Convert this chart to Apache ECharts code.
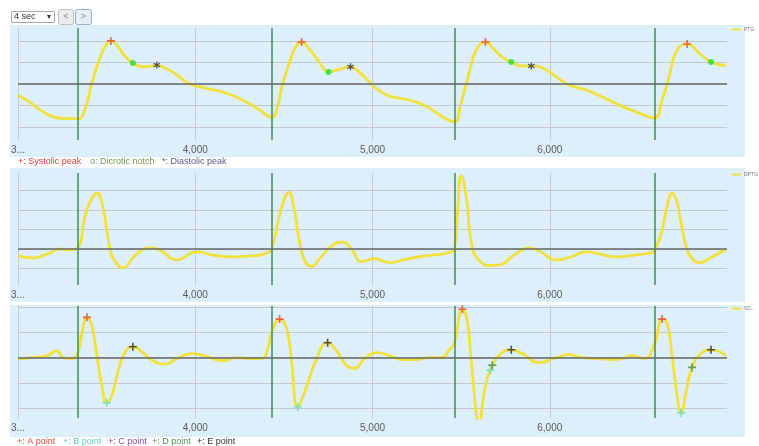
<!DOCTYPE html>
<html><head><meta charset="utf-8">
<script src="https://cdn.jsdelivr.net/npm/echarts@6/dist/echarts.min.js"></script>
<style>html,body{margin:0;padding:0;background:#fff}#c{width:759px;height:446px}</style>
</head><body><div id="c"></div>
<script>
// ---- data (time in ms, normalised amplitude) ----
const tickValues = [3000, 4000, 5000, 6000];
const tickLabels = ['3...', '4,000', '5,000', '6,000'];
const beatTimes = [3338, 4431, 5462, 6594];

const ptgTime = [3000,3068,3124,3208,3265,3338,3377,3417,3462,3496,3524,3563,3603,3648,3704,3744,3783,3828,3873,3924,3969,4065,4177,4279,4363,4431,4459,4493,4532,4566,4600,4645,4684,4718,4752,4814,4876,4910,4944,5000,5079,5152,5248,5321,5394,5462,5496,5530,5558,5586,5637,5687,5732,5783,5845,5896,5958,6037,6110,6206,6296,6392,6504,6589,6634,6673,6718,6775,6842,6910,6994];
const ptgValue = [-0.51,-0.85,-1.2,-1.55,-1.6,-1.62,-1.2,0.05,1.2,1.8,2.0,1.75,1.3,0.98,0.8,0.82,0.88,0.75,0.56,0.25,0.0,-0.2,-0.43,-0.8,-1.2,-1.55,-1.2,0.0,1.0,1.7,1.95,1.6,1.2,0.8,0.56,0.68,0.8,0.65,0.42,-0.05,-0.51,-0.65,-0.84,-1.12,-1.52,-1.76,-1.0,0.05,0.9,1.58,1.95,1.6,1.25,1.02,0.84,0.84,0.74,0.33,-0.05,-0.28,-0.6,-0.98,-1.35,-1.58,-0.74,0.33,1.58,1.86,1.44,1.02,0.84];

const dptgTime = [3000,3085,3180,3237,3293,3338,3377,3411,3445,3479,3518,3552,3592,3648,3699,3744,3800,3896,4008,4099,4211,4307,4363,4409,4431,4470,4504,4527,4555,4589,4623,4656,4701,4769,4831,4882,4938,5011,5096,5180,5265,5349,5423,5462,5480,5501,5530,5560,5603,5659,5716,5800,5885,5941,6037,6121,6206,6279,6375,6448,6521,6572,6594,6634,6662,6690,6718,6741,6775,6809,6842,6916,6994];
const dptgValue = [-0.36,-0.46,-0.2,0.0,-0.05,0.05,1.63,2.5,2.86,2.14,0.05,-0.7,-0.97,-0.46,-0.05,0.05,-0.05,-0.56,-0.15,-0.31,-0.41,-0.35,-0.31,-0.2,0.0,1.5,2.6,2.9,2.2,0.3,-0.7,-0.9,-0.5,0.15,0.35,0.0,-0.65,-0.5,-0.7,-0.55,-0.4,-0.3,-0.2,0.0,1.9,3.75,2.6,0.2,-0.6,-0.85,-0.82,-0.3,0.05,-0.1,-0.56,-0.4,-0.15,-0.25,-0.41,-0.35,-0.26,-0.2,-0.05,0.97,2.2,2.86,2.4,1.33,-0.05,-0.55,-0.71,-0.41,0.0];

const sdptgTime = [3000,3085,3163,3220,3254,3304,3338,3361,3389,3417,3445,3473,3501,3530,3563,3603,3648,3704,3761,3828,3896,3980,4025,4099,4155,4234,4307,4375,4409,4431,4476,4516,4544,4578,4617,4685,4747,4797,4854,4899,4955,5028,5096,5169,5248,5321,5389,5434,5462,5507,5535,5558,5603,5631,5671,5732,5783,5845,5941,6037,6110,6183,6279,6352,6431,6465,6533,6594,6606,6634,6662,6690,6718,6741,6769,6803,6854,6910,6994];
const sdptgValue = [-0.04,0,0.08,0.27,0.0,-0.04,0.2,0.98,1.6,1.25,0.08,-1.1,-1.8,-1.49,-0.59,0.2,0.43,0.2,-0.12,-0.27,-0.04,0.16,0.12,-0.04,-0.12,0,-0.04,-0.04,0.35,1.0,1.53,1.14,-0.2,-1.96,-1.37,-0.04,0.59,0.27,-0.31,-0.43,-0.04,0.2,0.08,-0.08,-0.08,0,0,0.31,0.59,1.92,1.45,-0.2,-2.6,-1.37,-0.39,0.2,0.31,0.16,-0.2,0,0.12,0,-0.04,-0.08,0,0.08,-0.04,0.59,0.94,1.53,1.37,0.08,-1.49,-2.2,-1.37,-0.39,0.16,0.31,0.08];

const sysTime = [3524, 4600, 5637, 6775];
const sysValue = [2.0, 1.95, 1.95, 1.86];
const notchTime = [3648, 4752, 5783, 6910];
const notchValue = [0.98, 0.56, 1.02, 1.02];
const diaTime = [3783, 4876, 5896];
const diaValue = [0.88, 0.8, 0.84];

const aTime = [3389, 4476, 5507, 6634];
const aValue = [1.6, 1.53, 1.92, 1.53];
const bTime = [3501, 4578, 5665, 6741];
const bValue = [-1.8, -1.96, -0.5, -2.2];
const dTime = [5676, 6803];
const dValue = [-0.3, -0.39];
const eTime = [3648, 4747, 5783, 6910];
const eValue = [0.43, 0.59, 0.31, 0.31];

// ---- chart ----
const zip = (t, v) => t.map((x, i) => [x, v[i]]);
const PLUS = 'path://M4,0H6V4H10V6H6V10H4V6H0V4H4Z';
const STAR = 'path://M4.2,0H5.8V3.2L8.5,1.5L9.3,2.9L6.6,4.5L9.3,6.1L8.5,7.5L5.8,5.8V9H4.2V5.8L1.5,7.5L0.7,6.1L3.4,4.5L0.7,2.9L1.5,1.5L4.2,3.2Z';
const FONT = 'Liberation Sans';
const LINE_COLOR = '#f1e13a';

const grids = [
  {left: 18, width: 709, top: 28, height: 112},
  {left: 18, width: 709, top: 173, height: 112},
  {left: 18, width: 709, top: 306, height: 112}
];
const yRanges = [[-2.6, 2.6], [-1.85, 3.9], [-2.4, 2.05]];

const xAxes = grids.map((g, i) => ({
  type: 'value', gridIndex: i, min: 3000, max: 7000, interval: 1000,
  axisLine: {show: false}, axisTick: {show: false},
  axisLabel: {
    fontSize: 10, color: '#5a5a5a', margin: 5, fontFamily: FONT, showMaxLabel: false,
    formatter: v => { const k = tickValues.indexOf(v); return k >= 0 ? tickLabels[k] : ''; }
  },
  splitLine: {show: true, showMaxLine: false, lineStyle: {color: '#c6cacd', width: 1}}
}));
const yAxes = grids.map((g, i) => ({
  type: 'value', gridIndex: i, min: yRanges[i][0], max: yRanges[i][1],
  axisLine: {show: false}, axisTick: {show: false}, axisLabel: {show: false},
  splitLine: {show: true, showMinLine: false, showMaxLine: false, lineStyle: {color: '#c4c8cc', width: 1}}
}));

function guides(i) {
  return {
    type: 'line', name: 'guides' + i, xAxisIndex: i, yAxisIndex: i, data: [], z: 1, silent: true,
    markLine: {
      symbol: 'none', silent: true, animation: false, label: {show: false},
      data: [{yAxis: 0, lineStyle: {color: '#65686a', width: 1.5, type: 'solid'}}]
        .concat(beatTimes.map(t => ({xAxis: t, lineStyle: {color: '#3f8c52', width: 1.5, type: 'solid'}})))
    }
  };
}
function signal(name, i, t, v) {
  return {
    type: 'line', name, xAxisIndex: i, yAxisIndex: i, data: zip(t, v), smooth: 0.5,
    showSymbol: false, symbol: 'none', z: 3, clip: true,
    lineStyle: {color: LINE_COLOR, width: 2.8}, itemStyle: {color: LINE_COLOR}
  };
}
function marks(name, i, t, v, symbol, size, color) {
  return {
    type: 'scatter', name, xAxisIndex: i, yAxisIndex: i, data: zip(t, v), z: 5,
    symbol, symbolSize: size, itemStyle: {color}, silent: true
  };
}

const legendCommon = {
  orient: 'horizontal', icon: 'rect', itemWidth: 9, itemHeight: 2, itemGap: 2,
  textStyle: {fontSize: 5, color: '#777', fontFamily: FONT, padding: [0, 0, 0, -2]},
  selectedMode: false, padding: 0
};

const option = {
  animation: false,
  backgroundColor: '#ffffff',
  grid: grids,
  xAxis: xAxes,
  yAxis: yAxes,
  legend: [
    Object.assign({}, legendCommon, {data: ['PTG'], left: 732, top: 27}),
    Object.assign({}, legendCommon, {data: ['DPTG'], left: 732, top: 172}),
    Object.assign({}, legendCommon, {data: ['SDPTG'], left: 732, top: 306, formatter: n => 'SD...'})
  ],
  graphic: {
    elements: [
      {type: 'rect', z: -10, shape: {x: 10, y: 25, width: 735, height: 132}, style: {fill: '#ddeffa'}},
      {type: 'rect', z: -10, shape: {x: 10, y: 168, width: 735, height: 134}, style: {fill: '#ddeffa'}},
      {type: 'rect', z: -10, shape: {x: 10, y: 305, width: 735, height: 132}, style: {fill: '#ddeffa'}},
      // controls
      {type: 'rect', shape: {x: 11.5, y: 11.5, width: 43, height: 11}, style: {fill: '#fff', stroke: '#a8a8a8', lineWidth: 1}},
      {type: 'text', x: 14, y: 17, style: {text: '4 sec', font: '9px ' + FONT, fill: '#333', textVerticalAlign: 'middle'}},
      {type: 'text', x: 47, y: 17, style: {text: '▾', font: '8px ' + FONT, fill: '#333', textVerticalAlign: 'middle'}},
      {type: 'rect', shape: {x: 58.5, y: 9.5, width: 15, height: 15, r: 2}, style: {fill: '#ececec', stroke: '#bdbdbd', lineWidth: 1}},
      {type: 'text', x: 66, y: 17, style: {text: '<', font: '9px ' + FONT, fill: '#888', align: 'center', textVerticalAlign: 'middle'}},
      {type: 'rect', shape: {x: 75.5, y: 9.5, width: 16, height: 15, r: 2}, style: {fill: '#e6edf5', stroke: '#8fb0cf', lineWidth: 1}},
      {type: 'text', x: 83.5, y: 17, style: {text: '>', font: '9px ' + FONT, fill: '#888', align: 'center', textVerticalAlign: 'middle'}},
      // annotation keys
      {type: 'text', x: 18, y: 162, style: {text: '+: Systolic peak', font: '9px ' + FONT, fill: '#e2463e', textVerticalAlign: 'middle'}},
      {type: 'text', x: 90, y: 162, style: {text: 'o: Dicrotic notch', font: '9px ' + FONT, fill: '#6f9a4c', textVerticalAlign: 'middle'}},
      {type: 'text', x: 162, y: 162, style: {text: '*: Diastolic peak', font: '9px ' + FONT, fill: '#5a5a92', textVerticalAlign: 'middle'}},
      {type: 'text', x: 17, y: 442, style: {text: '+: A point', font: '9px ' + FONT, fill: '#e2463e', textVerticalAlign: 'middle'}},
      {type: 'text', x: 63, y: 442, style: {text: '+: B point', font: '9px ' + FONT, fill: '#5ccfc4', textVerticalAlign: 'middle'}},
      {type: 'text', x: 108, y: 442, style: {text: '+: C point', font: '9px ' + FONT, fill: '#8a4aa6', textVerticalAlign: 'middle'}},
      {type: 'text', x: 152, y: 442, style: {text: '+: D point', font: '9px ' + FONT, fill: '#4a9650', textVerticalAlign: 'middle'}},
      {type: 'text', x: 197, y: 442, style: {text: '+: E point', font: '9px ' + FONT, fill: '#333', textVerticalAlign: 'middle'}}
    ]
  },
  series: [
    guides(0), guides(1), guides(2),
    signal('PTG', 0, ptgTime, ptgValue),
    signal('DPTG', 1, dptgTime, dptgValue),
    signal('SDPTG', 2, sdptgTime, sdptgValue),
    marks('Systolic peak', 0, sysTime, sysValue, PLUS, 8, '#e8403a'),
    marks('Dicrotic notch', 0, notchTime, notchValue, 'circle', 6, '#22dd33'),
    marks('Diastolic peak', 0, diaTime, diaValue, STAR, 7, '#2e2e55'),
    marks('A point', 2, aTime, aValue, PLUS, 8, '#e8403a'),
    marks('B point', 2, bTime, bValue, PLUS, 8, '#5ee0d0'),
    marks('D point', 2, dTime, dValue, PLUS, 8, '#3f8f3a'),
    marks('E point', 2, eTime, eValue, PLUS, 8, '#2a2a2a')
  ]
};

const chart = echarts.init(document.getElementById('c'), null, {renderer: 'canvas'});
chart.setOption(option);
</script>
</body></html>
